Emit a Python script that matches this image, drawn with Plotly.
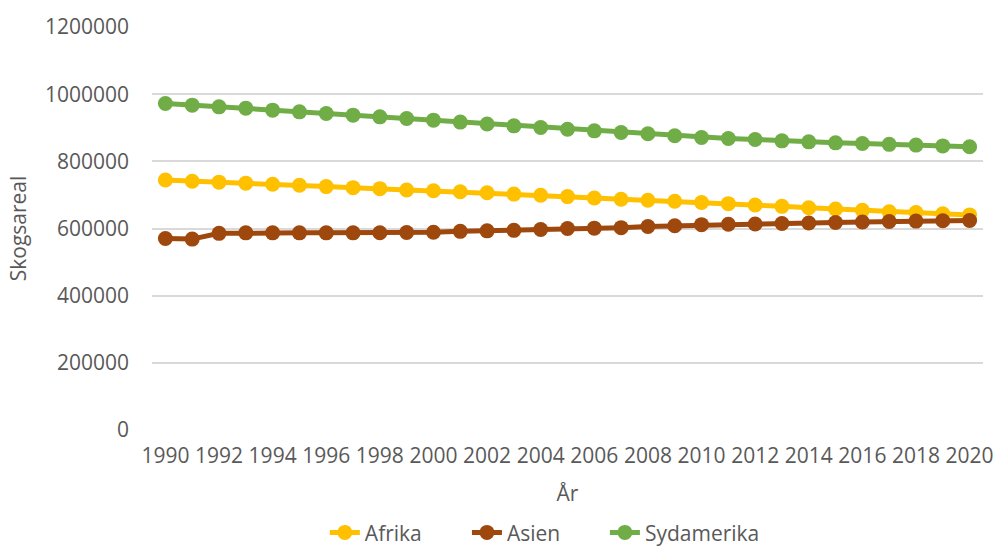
import plotly.graph_objects as go

years = list(range(1990, 2021))

afrika = [744400, 740500, 738000, 735000, 731600, 728600, 724700, 721700, 718700, 714800,
          712500, 709500, 706500, 702500, 699000, 695000, 691000, 687000, 684000, 681000,
          677500, 674000, 670000, 666000, 662000, 658000, 654000, 650000, 647500, 644000, 640500]

asien = [570200, 568500, 585500, 587000, 587000, 587000, 587000, 587000, 587500, 588000,
         589000, 591500, 593000, 594500, 597000, 600000, 601000, 602500, 606000, 608000,
         611500, 612500, 613500, 615000, 616500, 618000, 619500, 621000, 622000, 623000, 624000]

sydamerika = [972300, 967300, 962300, 958300, 952400, 947300, 942500, 937500, 932400, 927700,
              922600, 916800, 911000, 905700, 900900, 895500, 890800, 886000, 882000, 876000,
              871000, 868000, 865000, 861000, 858000, 855000, 853000, 850500, 848300, 846000, 843500]

series_names = ["Afrika", "Asien", "Sydamerika"]
series_values = [afrika, asien, sydamerika]
colors = ["#FFC000", "#9E480E", "#70AD47"]

y_ticks = [0, 200000, 400000, 600000, 800000, 1000000, 1200000]
x_ticks = list(range(1990, 2021, 2))

FONT = "Open Sans"
TXT = "#595959"
FS = 21

legend_ids = ["legend", "legend2", "legend3"]
legend_x = [0.208, 0.379, 0.545]

fig = go.Figure()
for name, vals, col, lid in zip(series_names, series_values, colors, legend_ids):
    fig.add_trace(go.Scatter(
        x=years, y=vals, name=name, mode="lines+markers",
        line=dict(color=col, width=5),
        marker=dict(color=col, size=15),
        legend=lid,
    ))

legend_common = dict(orientation="h", xanchor="left", y=-0.255, yanchor="middle",
                     font=dict(family=FONT, size=FS, color=TXT),
                     bgcolor="rgba(0,0,0,0)")

fig.update_layout(
    width=998, height=547,
    paper_bgcolor="white", plot_bgcolor="white",
    margin=dict(l=152, r=15, t=27, b=117, autoexpand=False),
    font=dict(family=FONT, size=FS, color=TXT),
    showlegend=True,
    legend=dict(x=legend_x[0], **legend_common),
    legend2=dict(x=legend_x[1], **legend_common),
    legend3=dict(x=legend_x[2], **legend_common),
    xaxis=dict(
        range=[1989.5, 2020.5], tickmode="array", tickvals=x_ticks,
        ticktext=[str(v) for v in x_ticks], showgrid=False, zeroline=False,
        showline=False, ticks="", ticklabelstandoff=11,
        tickfont=dict(family=FONT, size=FS, color=TXT),
        title=dict(text="År", font=dict(family=FONT, size=FS, color=TXT), standoff=18),
    ),
    yaxis=dict(
        range=[0, 1200000], tickmode="array", tickvals=y_ticks,
        ticktext=[str(v) for v in y_ticks], showgrid=True, gridcolor="#D9D9D9",
        gridwidth=1.5, zeroline=False, showline=False, ticks="", ticklabelstandoff=22,
        tickfont=dict(family=FONT, size=FS, color=TXT),
        title=dict(text="Skogsareal", font=dict(family=FONT, size=FS, color=TXT), standoff=12),
    ),
)

fig.write_html("out.html")
